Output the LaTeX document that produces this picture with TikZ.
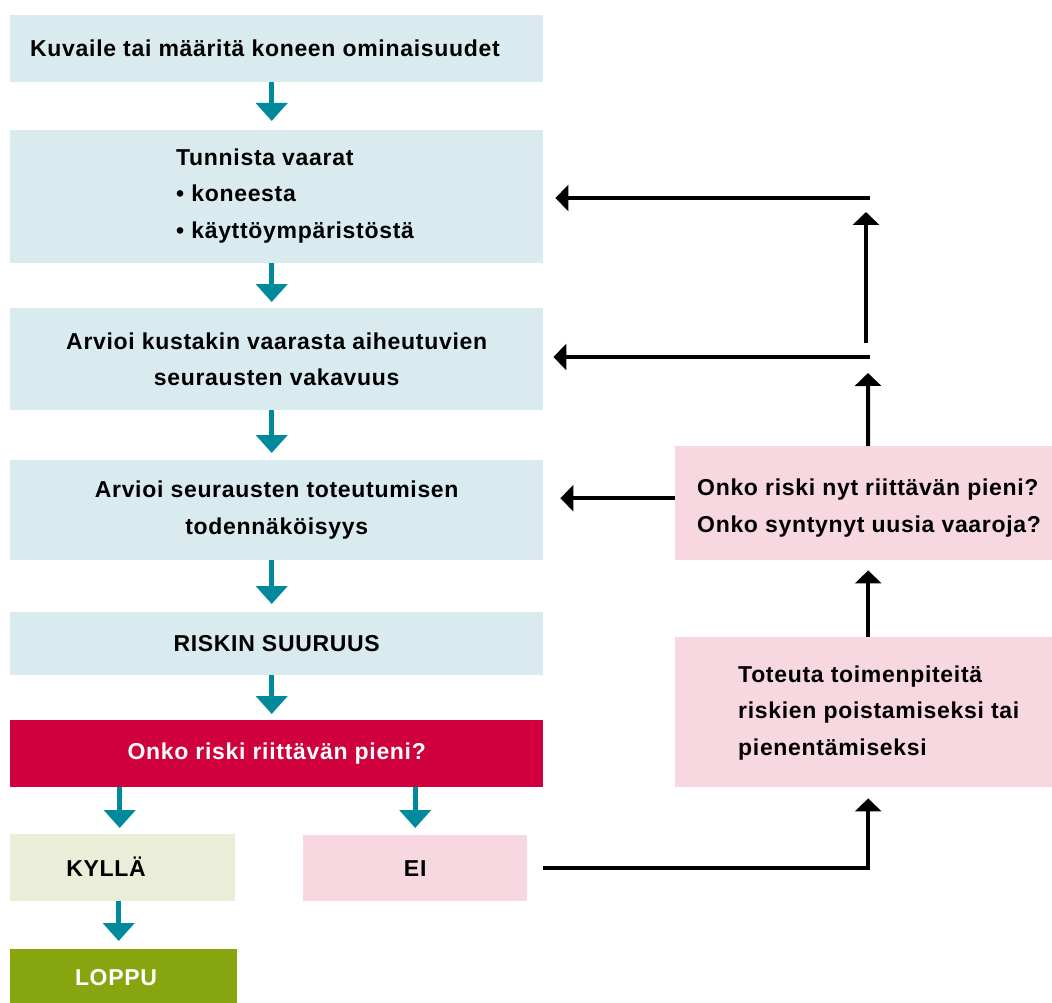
\documentclass[tikz,border=0pt]{standalone}
\usepackage{fontspec}
\setmainfont{Liberation Sans}[LetterSpace=3]
\usetikzlibrary{arrows.meta}
\definecolor{boxblue}{HTML}{D9EBEF}
\definecolor{boxred}{HTML}{D0003F}
\definecolor{boxyes}{HTML}{EAEED8}
\definecolor{boxpink}{HTML}{F7D7E0}
\definecolor{boxgreen}{HTML}{86A50E}
\definecolor{arrteal}{HTML}{008A9B}
\begin{document}
\begin{tikzpicture}[x=1pt,y=-1pt,
  every node/.style={font=\fontsize{23}{36.5}\selectfont\bfseries, inner sep=0pt},
  box/.style={rectangle, anchor=north west, align=center},
  txt/.style={anchor=west, align=left},
  tealarr/.style={draw=arrteal, line width=5pt, -{Triangle[width=31pt,length=18pt]}, arrteal},
  blackarr/.style={draw=black, line width=4pt, -{Triangle[width=26pt,length=13pt]}},
  blackline/.style={draw=black, line width=4pt}
]
\useasboundingbox[fill=white] (0,0) rectangle (1052,1003);

% left column
\node[box, fill=boxblue, minimum width=533pt, minimum height=67pt] (b1) at (10,15) {};
\node[txt] (t1) at (30,48) {Kuvaile tai määritä koneen ominaisuudet};
\node[box, fill=boxblue, minimum width=533pt, minimum height=133pt] (b2) at (10,130) {};
\node[txt] (t2) at (176,196) {Tunnista vaarat\\• koneesta\\• käyttöympäristöstä};
\node[box, fill=boxblue, minimum width=533pt, minimum height=102pt] (b3) at (10,308) {Arvioi kustakin vaarasta aiheutuvien\\seurausten vakavuus};
\node[box, fill=boxblue, minimum width=533pt, minimum height=100pt] (b4) at (10,460) {Arvioi seurausten toteutumisen\\todennäköisyys};
\node[box, fill=boxblue, minimum width=533pt, minimum height=63pt] (b5) at (10,612) {RISKIN SUURUUS};
\node[box, fill=boxred, text=white, minimum width=533pt, minimum height=67pt] (b6) at (10,720) {Onko riski riittävän pieni?};
\node[box, fill=boxyes, minimum width=225pt, minimum height=67pt] (yes) at (10,834) {};
\node[anchor=center] (tyes) at (106,867) {KYLLÄ};
\node[box, fill=boxpink, minimum width=224pt, minimum height=66pt] (no) at (303,835) {EI};
\node[box, fill=boxgreen, text=white, minimum width=227pt, minimum height=54pt] (end) at (10,949) {};
\node[anchor=center, text=white] (tend) at (116,978) {LOPPU};

% right column
\node[box, fill=boxpink, minimum width=377pt, minimum height=114pt] (chk) at (675,446) {};
\node[txt] (tchk) at (697,508) {Onko riski nyt riittävän pieni?\\Onko syntynyt uusia vaaroja?};
\node[box, fill=boxpink, minimum width=377pt, minimum height=150pt] (act) at (675,637) {};
\node[txt] (tact) at (738,713) {Toteuta toimenpiteitä\\riskien poistamiseksi tai\\pienentämiseksi};

% teal arrows
\draw[tealarr, shorten >=9pt] ([xshift=-5pt]b1.south) -- ([xshift=-5pt]b2.north);
\draw[tealarr, shorten >=6pt] ([xshift=-5pt]b2.south) -- ([xshift=-5pt]b3.north);
\draw[tealarr, shorten >=7pt] ([xshift=-5pt]b3.south) -- ([xshift=-5pt]b4.north);
\draw[tealarr, shorten >=8pt] ([xshift=-5pt]b4.south) -- ([xshift=-5pt]b5.north);
\draw[tealarr, shorten >=6pt] ([xshift=-5pt]b5.south) -- ([xshift=-5pt]b6.north);
\draw[tealarr, shorten >=6pt] ([xshift=-3pt]yes.north |- b6.south) -- ([xshift=-3pt]yes.north);
\draw[tealarr, shorten >=7pt] (no.north |- b6.south) -- (no.north);
\draw[tealarr, shorten >=8pt] ([xshift=-4pt]yes.south) -- ([xshift=-4pt]yes.south |- end.north);

% black arrows
\coordinate (c1) at (868,373);
\coordinate (c2) at (870,357);
\coordinate (c3) at (866,343);
\coordinate (c4) at (866,212);
\coordinate (c5) at (870,198);
\draw[blackarr, shorten <=16pt, shorten >=11pt] (no.east) -| ([xshift=4.5pt]act.south);
\draw[blackarr, shorten >=10pt] ([xshift=4.5pt]act.north) -- ([xshift=4.5pt]chk.south);
\draw[blackarr, shorten >=17pt] ([yshift=5pt]chk.west) -- ([yshift=5pt]chk.west -| b4.east);
\draw[blackarr] ([xshift=4.5pt]chk.north) -- (c1);
\draw[blackarr, shorten >=10pt] (c2) -- (c2 -| b3.east);
\draw[blackarr] (c3) -- (c4);
\draw[blackarr, shorten >=12pt] (c5) -- (c5 -| b2.east);
\end{tikzpicture}
\end{document}
